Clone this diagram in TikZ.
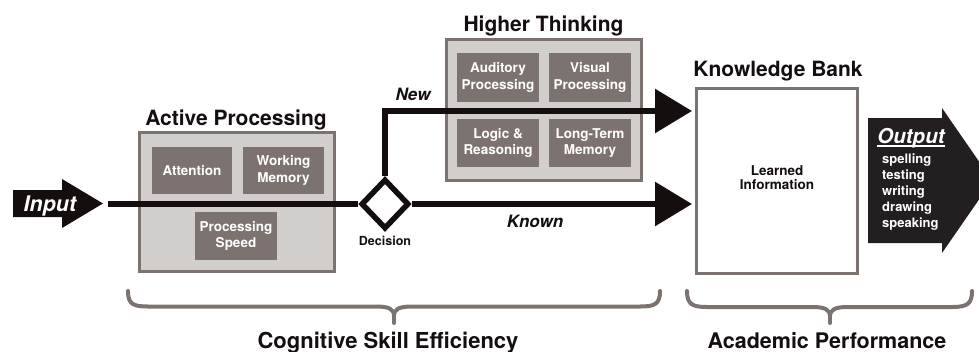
\documentclass[tikz,border=0pt]{standalone}
\usepackage{fontspec}
\setmainfont{TeX Gyre Heros}
\usetikzlibrary{shapes.geometric,arrows.meta}
\definecolor{boxfill}{HTML}{D2CECB}
\definecolor{boxdark}{HTML}{7C7370}
\definecolor{ink}{HTML}{140E0E}
\definecolor{outfill}{HTML}{231F20}
\tikzset{
  outerbox/.style={draw=boxdark, fill=boxfill, line width=3pt, inner sep=0pt},
  innerbox/.style={fill=boxdark, text=white, inner sep=0pt, align=center,
    font=\bfseries\fontsize{13.5}{16.5}\selectfont},
  titletext/.style={anchor=base, inner sep=0pt, font=\bfseries\fontsize{21}{24}\selectfont, text=ink},
  flowline/.style={draw=ink, line width=6pt},
  bigtip/.style={-{Triangle[length=37pt,width=43pt]}},
  bracepath/.style={draw=boxdark, line width=4pt, line cap=round, line join=round},
  pathlabel/.style={anchor=base, inner sep=0pt, font=\bfseries\itshape\fontsize{17}{20}\selectfont, text=ink},
  outitem/.style={anchor=base west, inner sep=0pt, text=white, font=\bfseries\fontsize{13}{16}\selectfont},
}
\begin{document}
\begin{tikzpicture}[x=1pt,y=-1pt]
\useasboundingbox (0,0) rectangle (979,351);

% Input arrow
\fill[ink] (13,190) -- (62,190) -- (62,179) -- (103,203.5) -- (62,228) -- (62,217) -- (13,217) -- cycle;
\node[inner sep=0pt, text=white, font=\bfseries\itshape\fontsize{21.5}{24}\selectfont, anchor=base] (input) at (50,211) {Input};
\coordinate (instart) at (108,204);

% Active Processing
\node[titletext] (aptitle) at (236,125) {Active Processing};
\node[outerbox, minimum width=195pt, minimum height=139pt] (ap) at (236.5,201.5) {};
\node[innerbox, minimum width=80pt, minimum height=47pt] (att) at (192,170.5) {Attention};
\node[innerbox, minimum width=81pt, minimum height=47pt] (wm) at (283.5,170.5) {Working\\Memory};
\node[innerbox, minimum width=82pt, minimum height=48pt] (ps) at (236,236) {Processing\\Speed};

% Higher Thinking
\node[titletext] (httitle) at (543.5,31.5) {Higher Thinking};
\node[outerbox, minimum width=195pt, minimum height=141pt] (ht) at (544,110) {};
\node[innerbox, minimum width=82pt, minimum height=49pt] (aud) at (498,77.5) {Auditory\\Processing};
\node[innerbox, minimum width=82pt, minimum height=49pt] (vis) at (590,77.5) {Visual\\Processing};
\node[innerbox, minimum width=82pt, minimum height=48pt] (log) at (498,143) {Logic \&\\Reasoning};
\node[innerbox, minimum width=82pt, minimum height=48pt] (ltm) at (590,143) {Long-Term\\Memory};

% Knowledge Bank
\node[titletext] (kbtitle) at (778,76) {Knowledge Bank};
\node[draw=boxdark, fill=white, line width=3pt, minimum width=161pt, minimum height=185pt, inner sep=0pt] (kb) at (777,181) {};
\node[anchor=base, inner sep=0pt, text=ink, font=\bfseries\fontsize{13.5}{14}\selectfont] (learned) at (777,175) {Learned};
\node[anchor=base, inner sep=0pt, text=ink, font=\bfseries\fontsize{13.5}{14}\selectfont] (info) at (777,189) {Information};

% Decision
\node[diamond, draw=ink, fill=white, line width=5.5pt, minimum width=48pt, minimum height=50pt, inner sep=0pt] (dec) at (385,204) {};
\node[anchor=base, inner sep=0pt, text=ink, font=\bfseries\fontsize{12.5}{14}\selectfont] (declabel) at (385,245) {Decision};

\coordinate (tipnew) at (692,111);
\coordinate (tipknown) at (692,204);

% flow lines
\draw[flowline] (instart) -- (dec.west);
\draw[flowline, bigtip, line join=miter] (dec.north) |- (tipnew);
\draw[flowline, bigtip] (dec.east) -- (tipknown);

\node[pathlabel] (newlabel) at (413,100) {New};
\node[pathlabel] (knownlabel) at (535,227) {Known};

% Output arrow
\fill[outfill] (868,118) -- (942,118) -- (942,108) -- (979,161.5) -- (979,199.5) -- (942,253) -- (942,243) -- (868,243) -- cycle;
\node[inner sep=0pt, anchor=base, text=white, font=\bfseries\itshape\fontsize{20.5}{24}\selectfont] (out) at (911,143) {Output};
\draw[white, line width=1.8pt] ([yshift=-3pt]out.base west) -- ([yshift=-3pt]out.base east);
\node[outitem] (o1) at (882,163) {spelling};
\node[outitem] (o2) at (882,179) {testing};
\node[outitem] (o3) at (882,195) {writing};
\node[outitem] (o4) at (882,211) {drawing};
\node[outitem] (o5) at (882,227) {speaking};

% Braces
\draw[bracepath] (128,291) .. controls (128,304) and (133,306.5) .. (148,306.5) -- (376,306.5)
  .. controls (389,306.5) and (394,309) .. (394,316) .. controls (394,309) and (399,306.5) .. (412,306.5)
  -- (640,306.5) .. controls (655,306.5) and (660,304) .. (660,291);
\draw[bracepath] (394,314) -- (394,323);
\draw[bracepath] (687,291) .. controls (687,304) and (692,307) .. (707,307) -- (812,307)
  .. controls (825,307) and (830,309.5) .. (830,316.5) .. controls (830,309.5) and (835,307) .. (848,307)
  -- (952,307) .. controls (967,307) and (972,304) .. (972,291);
\draw[bracepath] (830,314) -- (830,323);

\node[titletext, font=\bfseries\fontsize{22}{24}\selectfont] (cse) at (388,348) {Cognitive Skill Efficiency};
\node[titletext, font=\bfseries\fontsize{21.5}{24}\selectfont] (acp) at (827,348) {Academic Performance};
\end{tikzpicture}
\end{document}
